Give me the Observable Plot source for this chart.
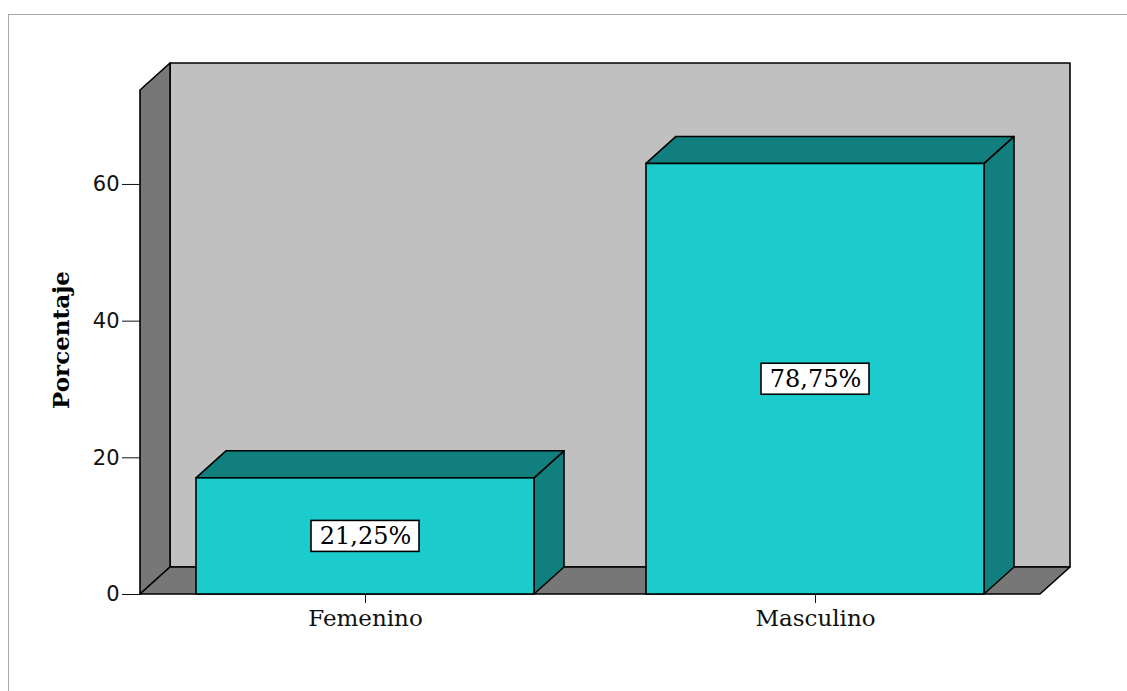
<!DOCTYPE html>
<html><head><meta charset="utf-8">
<script src="https://cdn.jsdelivr.net/npm/d3@7"></script>
<script src="https://cdn.jsdelivr.net/npm/@observablehq/plot@0.6"></script>
<style>
html,body{margin:0;padding:0;background:#fff;width:1127px;height:691px;overflow:hidden;}
#frame{position:absolute;left:8px;top:14px;width:1300px;height:900px;border-left:1px solid #a8a8a8;border-top:1px solid #a8a8a8;}
#chart{position:absolute;left:0;top:0;}
</style></head><body><div id="frame"></div><div id="chart"></div>
<script>
const categories = ["Femenino", "Masculino"];
const counts = [17, 63];
const percentLabels = ["21,25%", "78,75%"];
const yTicks = [0, 20, 40, 60];
const yMax = 73.75;
const yLabel = "Porcentaje";

const data = categories.map((c, i) => ({category: c, value: counts[i], label: percentLabels[i]}));

const DX = 30, DY = -27;
const FRONT = "#1ccccc", DARK = "#117f7d", WALL = "#c0c0c0", SIDEWALL = "#777777";

function poly(g, pts, fill) {
  g.append("polygon")
    .attr("points", pts.map(p => p.join(",")).join(" "))
    .attr("fill", fill).attr("stroke", "#000")
    .attr("stroke-width", 1.6).attr("stroke-linejoin", "round");
}

const walls = (index, scales, values, dim) => {
  const g = d3.create("svg:g");
  const l = dim.marginLeft, r = dim.width - dim.marginRight;
  const t = scales.y(yMax), b = scales.y(0);
  poly(g, [[l + DX, t + DY], [r + DX, t + DY], [r + DX, b + DY], [l + DX, b + DY]], WALL);
  poly(g, [[l, b], [l, t], [l + DX, t + DY], [l + DX, b + DY]], SIDEWALL);
  poly(g, [[l, b], [l + DX, b + DY], [r + DX, b + DY], [r, b]], SIDEWALL);
  return g.node();
};

const bars3d = (index, scales) => {
  const {x, y} = scales;
  const g = d3.create("svg:g");
  const bw = x.bandwidth();
  for (const d of data) {
    const x0 = x(d.category), x1 = x0 + bw, yv = y(d.value), y0 = y(0);
    poly(g, [[x1, y0], [x1, yv], [x1 + DX, yv + DY], [x1 + DX, y0 + DY]], DARK);
    poly(g, [[x0, yv], [x0 + DX, yv + DY], [x1 + DX, yv + DY], [x1, yv]], DARK);
  }
  return g.node();
};

const boxes = (index, scales) => {
  const {x, y} = scales;
  const g = d3.create("svg:g");
  const bw = x.bandwidth();
  for (const d of data) {
    const cx = x(d.category) + bw / 2, cy = y(d.value / 2);
    g.append("rect").attr("x", cx - 54).attr("y", cy - 15.5).attr("width", 108).attr("height", 31)
      .attr("fill", "#fff").attr("stroke", "#000").attr("stroke-width", 1.6);
  }
  return g.node();
};

const yTitle = (index, scales, values, dim) => {
  const l = dim.marginLeft;
  const cy = (scales.y(0) + scales.y(yMax)) / 2 - 2;
  const g = d3.create("svg:g");
  g.append("text")
    .attr("transform", `translate(${l - 79},${cy}) rotate(-90)`)
    .attr("text-anchor", "middle").attr("dy", "0.35em")
    .attr("font-family", "DejaVu Serif").attr("font-weight", "bold").attr("font-size", 23)
    .attr("fill", "#000").text(yLabel);
  return g.node();
};

const chart = Plot.plot({
  width: 1127,
  height: 691,
  marginLeft: 140,
  marginRight: 87,
  marginTop: 90,
  marginBottom: 97,
  style: {background: "transparent", fontFamily: "DejaVu Sans"},
  x: {domain: categories, paddingInner: 0.25, paddingOuter: 0.125, label: null},
  y: {domain: [0, yMax], label: null},
  marks: [
    walls,
    bars3d,
    Plot.barY(data, {x: "category", y: "value", fill: FRONT, stroke: "#000", strokeWidth: 1.6}),
    boxes,
    Plot.text(data, {x: "category", y: d => d.value / 2, text: "label", fontSize: 24, fontFamily: "DejaVu Serif", fill: "#000"}),
    Plot.axisY({ticks: yTicks, tickSize: 18, tickPadding: 3, fontSize: 21, fontFamily: "DejaVu Sans", color: "#111", label: null}),
    Plot.axisX({tickSize: 9, tickPadding: 6, fontSize: 23, fontFamily: "DejaVu Serif", color: "#111", label: null}),
    yTitle
  ]
});
document.getElementById("chart").appendChild(chart);
</script>
</body></html>
